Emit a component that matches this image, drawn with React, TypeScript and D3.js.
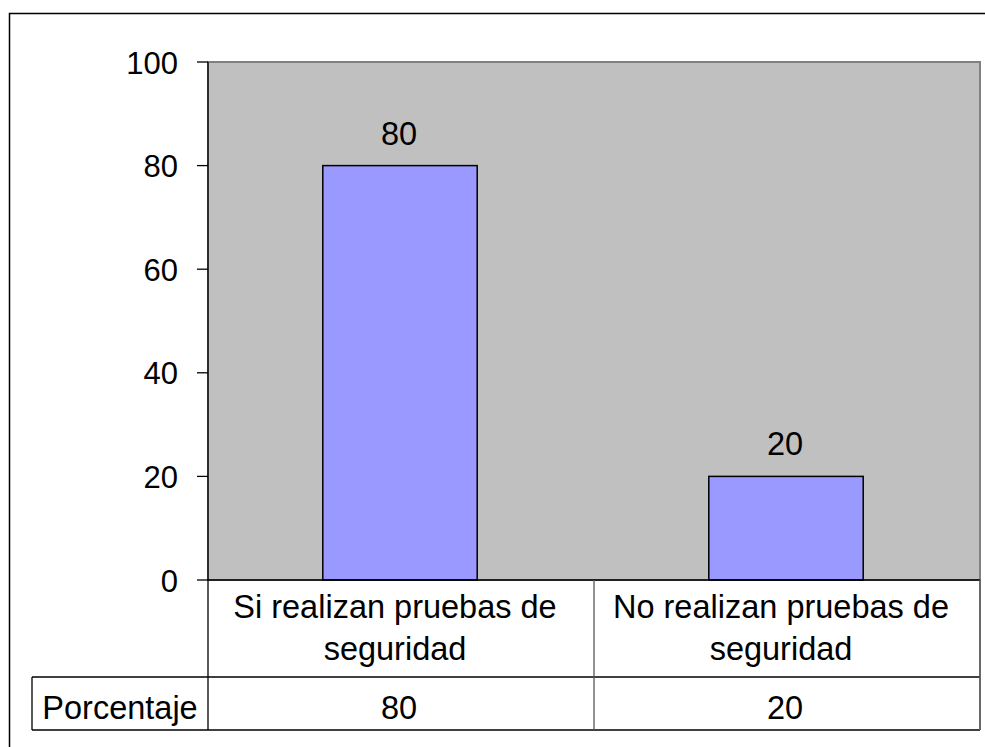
import React from "react";
import * as d3 from "d3";

const categories: string[][] = [
  ["Si realizan pruebas de", "seguridad"],
  ["No realizan pruebas de", "seguridad"],
];
const values: number[] = [80, 20];
const seriesName = "Porcentaje";
const yTicks: number[] = [0, 20, 40, 60, 80, 100];

const W = 985;
const H = 747;
const plot = { left: 208, right: 980, top: 62, bottom: 580 };
const tableRowBottom = 677;
const tableBottom = 730;
const tableLeft = 32;
const FONT = "'Liberation Sans', Arial, sans-serif";
const FS = 32.5;
const FS_TICK = 31;

export default function App() {
  const x = d3
    .scaleBand<number>()
    .domain(values.map((_, i) => i))
    .range([plot.left, plot.right])
    .paddingInner(0)
    .paddingOuter(0);
  const y = d3.scaleLinear().domain([0, 100]).range([plot.bottom, plot.top]);
  const barW = x.bandwidth() * 0.4;

  return (
    <svg
      width={W}
      height={H}
      style={{ position: "absolute", left: 0, top: 0, display: "block" }}
      fontFamily={FONT}
    >
      <rect x={0} y={0} width={W} height={H} fill="#fff" />
      <rect x={9.5} y={13.5} width={W + 20} height={H + 20} fill="none" stroke="#000" strokeWidth={1.5} />
      {/* plot area */}
      <rect
        x={plot.left}
        y={plot.top}
        width={plot.right - plot.left}
        height={plot.bottom - plot.top}
        fill="#C0C0C0"
        stroke="#808080"
        strokeWidth={2}
      />
      {/* bars */}
      {values.map((v, i) => {
        const cx = (x(i) as number) + x.bandwidth() / 2;
        return (
          <g key={i}>
            <rect
              x={cx - barW / 2 - 1}
              y={y(v)}
              width={barW}
              height={y(0) - y(v)}
              fill="#9999FF"
              stroke="#000"
              strokeWidth={1.5}
            />
            <text x={cx - 2} y={y(v) - 21} textAnchor="middle" fontSize={FS} fill="#000">
              {v}
            </text>
          </g>
        );
      })}
      {/* y axis */}
      <line x1={plot.left} x2={plot.left} y1={plot.top} y2={tableBottom} stroke="#000" strokeWidth={1.3} />
      {yTicks.map((t) => (
        <g key={t}>
          <line x1={197} x2={plot.left} y1={y(t)} y2={y(t)} stroke="#000" strokeWidth={1.3} />
          <text x={178} y={y(t) + 11.5} textAnchor="end" fontSize={FS_TICK} fill="#000">
            {t}
          </text>
        </g>
      ))}
      {/* x axis / table */}
      <line x1={plot.left} x2={plot.right} y1={plot.bottom} y2={plot.bottom} stroke="#000" strokeWidth={1.5} />
      <line x1={tableLeft} x2={plot.right} y1={tableRowBottom} y2={tableRowBottom} stroke="#000" strokeWidth={1.3} />
      <line x1={tableLeft} x2={plot.right} y1={tableBottom} y2={tableBottom} stroke="#000" strokeWidth={1.3} />
      <line x1={tableLeft} x2={tableLeft} y1={tableRowBottom} y2={tableBottom} stroke="#000" strokeWidth={1.3} />
      <line x1={plot.right} x2={plot.right} y1={plot.bottom} y2={tableBottom} stroke="#555" strokeWidth={1.3} />
      {values.map((_, i) => (
        <line
          key={"sep" + i}
          x1={(x(i) as number) + x.bandwidth()}
          x2={(x(i) as number) + x.bandwidth()}
          y1={plot.bottom}
          y2={tableBottom}
          stroke="#555"
          strokeWidth={1.3}
        />
      ))}
      {categories.map((lines, i) => {
        const cx = (x(i) as number) + x.bandwidth() / 2;
        return (
          <text key={"c" + i} textAnchor="middle" fontSize={FS} fill="#000">
            {lines.map((l, j) => (
              <tspan key={j} x={cx - 6} y={618 + j * 42}>
                {l}
              </tspan>
            ))}
          </text>
        );
      })}
      <text x={(tableLeft + plot.left) / 2} y={719} textAnchor="middle" fontSize={FS} fill="#000">
        {seriesName}
      </text>
      {values.map((v, i) => {
        const cx = (x(i) as number) + x.bandwidth() / 2;
        return (
          <text key={"v" + i} x={cx - 2} y={719} textAnchor="middle" fontSize={FS} fill="#000">
            {v}
          </text>
        );
      })}
    </svg>
  );
}
